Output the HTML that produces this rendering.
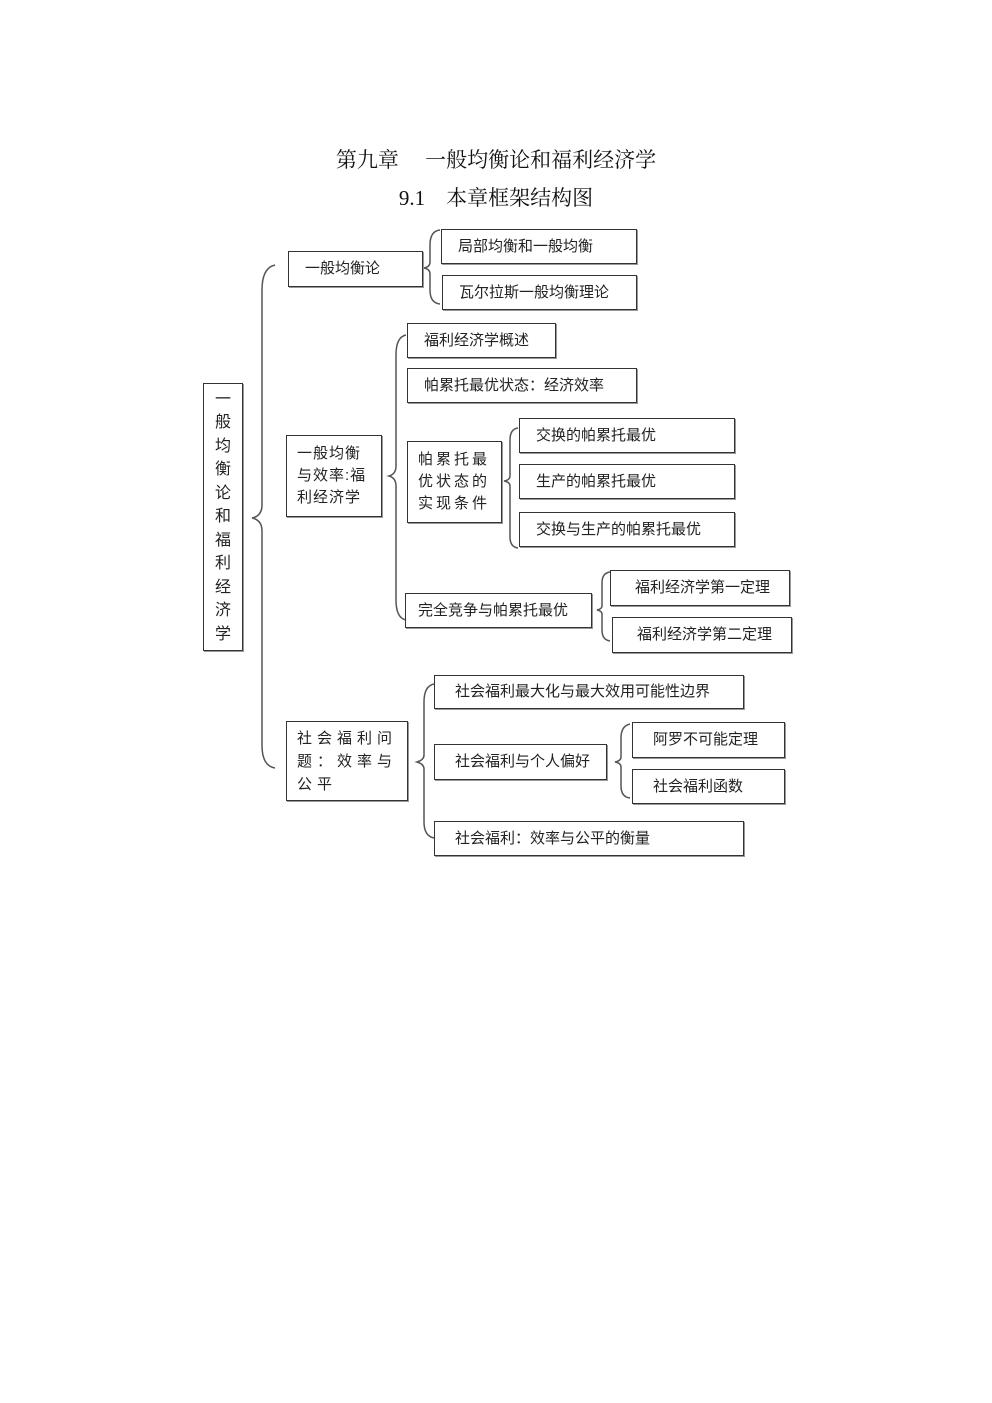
<!DOCTYPE html>
<html><head><meta charset="utf-8"><style>
body{margin:0;background:#fff;width:992px;height:1403px;position:relative;font-family:"Liberation Sans","Noto Sans CJK SC",sans-serif;color:#222;overflow:hidden}
.t{position:absolute;left:0;width:992px;text-align:center;font-family:"Liberation Serif","Noto Serif CJK SC",serif;font-size:21px;color:#111}
.b{position:absolute;border:1.6px solid #333;box-sizing:border-box;font-size:15px;line-height:20px;color:#222;padding-left:16px;display:flex;align-items:center;white-space:nowrap;box-shadow:1px 1px 0 #999}
.w{white-space:normal;padding:0 10px;letter-spacing:1px}
svg{position:absolute;left:0;top:0}
</style></head><body>
<div class="t" style="top:144px">第九章&nbsp;&nbsp;&nbsp;&nbsp;&nbsp;一般均衡论和福利经济学</div>
<div class="t" style="top:182px">9.1&nbsp;&nbsp;&nbsp;&nbsp;本章框架结构图</div>
<svg width="992" height="1403" fill="none" stroke="#555" stroke-width="1.5">
<path d="M275 265 Q262 268 262 290 L262 505 Q262 516 252 518 Q262 520 262 531 L262 745 Q262 766 275 768"/>
<path d="M440 230 Q430 231 430 245 L430 262 Q430 267 424 268 Q430 269 430 274 L430 290 Q430 303 440 304"/>
<path d="M406 335 Q396 337 396 355 L396 466 Q396 474 389 476 Q396 478 396 486 L396 600 Q396 618 406 620"/>
<path d="M518 428 Q510 429 510 440 L510 476 Q510 480 504 481 Q510 482 510 486 L510 537 Q510 547 518 548"/>
<path d="M610 572 Q602 573 602 583 L602 606 Q602 609 597 610 Q602 611 602 614 L602 630 Q602 640 610 641"/>
<path d="M434 684 Q424 686 424 702 L424 755 Q424 760 417 762 Q424 764 424 769 L424 822 Q424 836 434 838"/>
<path d="M630 724 Q621 726 621 738 L621 757 Q621 761 615 762 Q621 763 621 767 L621 786 Q621 797 630 798"/>
</svg>
<div class="b" style="left:203px;top:383px;width:40px;height:268px;padding:0;justify-content:center;text-align:center;white-space:normal;line-height:23.5px;font-size:16px">一<br>般<br>均<br>衡<br>论<br>和<br>福<br>利<br>经<br>济<br>学</div>
<div class="b" style="left:288px;top:251px;width:135px;height:36px">一般均衡论</div>
<div class="b" style="left:441px;top:229px;width:196px;height:35px">局部均衡和一般均衡</div>
<div class="b" style="left:442px;top:275px;width:195px;height:35px">瓦尔拉斯一般均衡理论</div>
<div class="b w" style="left:286px;top:435px;width:96px;height:82px;line-height:22px">一般均衡与效率:福利经济学</div>
<div class="b" style="left:407px;top:323px;width:149px;height:35px">福利经济学概述</div>
<div class="b" style="left:407px;top:368px;width:230px;height:35px">帕累托最优状态：经济效率</div>
<div class="b w" style="left:407px;top:441px;width:95px;height:82px;line-height:22px;letter-spacing:3px">帕累托最优状态的实现条件</div>
<div class="b" style="left:519px;top:418px;width:216px;height:35px">交换的帕累托最优</div>
<div class="b" style="left:519px;top:464px;width:216px;height:35px">生产的帕累托最优</div>
<div class="b" style="left:519px;top:512px;width:216px;height:35px">交换与生产的帕累托最优</div>
<div class="b" style="left:405px;top:593px;width:187px;height:35px;padding-left:12px">完全竞争与帕累托最优</div>
<div class="b" style="left:610px;top:570px;width:180px;height:36px;padding-left:24px">福利经济学第一定理</div>
<div class="b" style="left:612px;top:617px;width:180px;height:36px;padding-left:24px">福利经济学第二定理</div>
<div class="b w" style="left:286px;top:721px;width:122px;height:80px;line-height:23px;letter-spacing:5px">社会福利问题：效率与公平</div>
<div class="b" style="left:434px;top:675px;width:310px;height:34px;padding-left:20px">社会福利最大化与最大效用可能性边界</div>
<div class="b" style="left:434px;top:744px;width:173px;height:36px;padding-left:20px">社会福利与个人偏好</div>
<div class="b" style="left:632px;top:722px;width:153px;height:36px;padding-left:20px">阿罗不可能定理</div>
<div class="b" style="left:632px;top:769px;width:153px;height:35px;padding-left:20px">社会福利函数</div>
<div class="b" style="left:434px;top:821px;width:310px;height:35px;padding-left:20px">社会福利：效率与公平的衡量</div>
</body></html>
